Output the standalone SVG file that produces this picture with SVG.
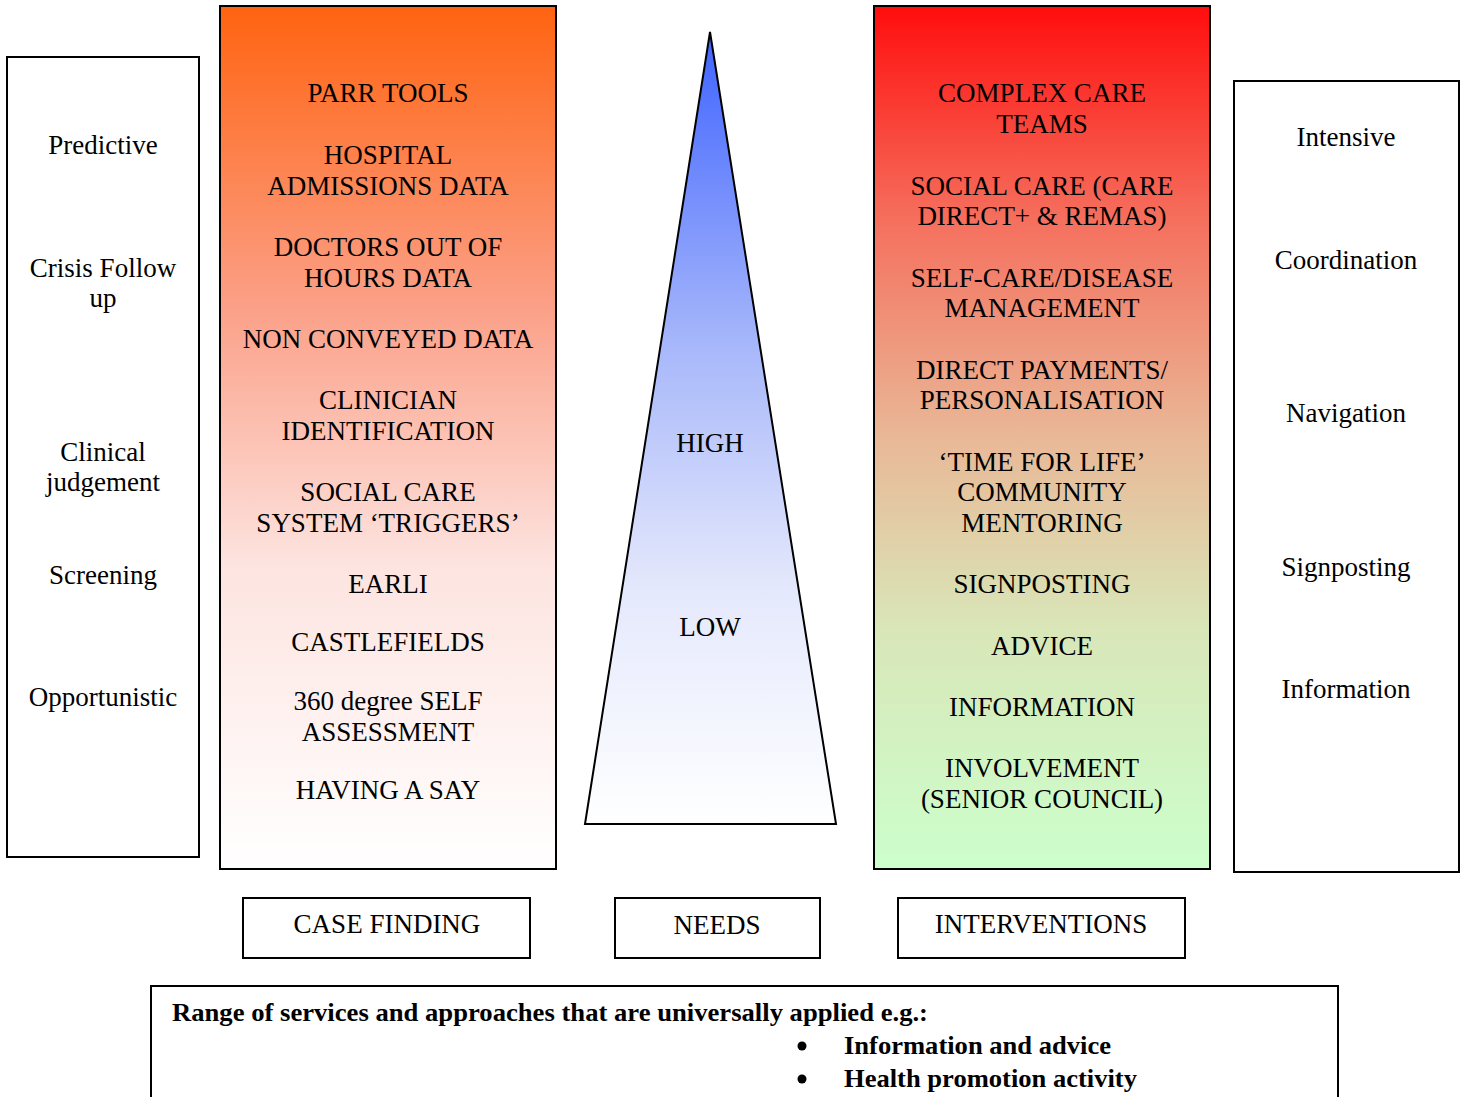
<svg xmlns="http://www.w3.org/2000/svg" width="1462" height="1097" viewBox="0 0 1462 1097">
<style>
text{font-family:"Liberation Serif","Times New Roman",serif;font-size:27px;fill:#000;text-anchor:middle}
.box{fill:#fff;stroke:#000;stroke-width:2}
.b{font-weight:bold;text-anchor:start;font-size:26px}
</style>
<defs>
<linearGradient id="gOr" x1="0" y1="0" x2="0" y2="1">
<stop offset="0" stop-color="#FF6310"/>
<stop offset="0.35" stop-color="#FBA088"/>
<stop offset="0.65" stop-color="#FDE4E0"/>
<stop offset="1" stop-color="#FFFFFF"/>
</linearGradient>
<linearGradient id="gRG" x1="0" y1="0" x2="0" y2="1">
<stop offset="0" stop-color="#FF0D0D"/>
<stop offset="0.25" stop-color="#F5705E"/>
<stop offset="0.5" stop-color="#E9B897"/>
<stop offset="0.72" stop-color="#D9E6B8"/>
<stop offset="1" stop-color="#CCFFCC"/>
</linearGradient>
<linearGradient id="gTri" x1="0" y1="32" x2="0" y2="824" gradientUnits="userSpaceOnUse">
<stop offset="0" stop-color="#3F63FF"/>
<stop offset="0.4" stop-color="#A8B8FA"/>
<stop offset="0.7" stop-color="#E4E8FC"/>
<stop offset="1" stop-color="#FFFFFF"/>
</linearGradient>
</defs>

<g id="left-column">
<rect class="box" x="7" y="57" width="192" height="800"/>
<text x="103" y="154">Predictive</text>
<text x="103" y="277">Crisis Follow</text>
<text x="103" y="307">up</text>
<text x="103" y="461">Clinical</text>
<text x="103" y="491">judgement</text>
<text x="103" y="584">Screening</text>
<text x="103" y="706">Opportunistic</text>
</g>

<g id="case-finding-list">
<rect x="220" y="6" width="336" height="863" fill="url(#gOr)" stroke="#000" stroke-width="2"/>
<text x="388" y="102">PARR TOOLS</text>
<text x="388" y="164">HOSPITAL</text>
<text x="388" y="195">ADMISSIONS DATA</text>
<text x="388" y="256">DOCTORS OUT OF</text>
<text x="388" y="287">HOURS DATA</text>
<text x="388" y="348">NON CONVEYED DATA</text>
<text x="388" y="409">CLINICIAN</text>
<text x="388" y="440">IDENTIFICATION</text>
<text x="388" y="501">SOCIAL CARE</text>
<text x="388" y="532">SYSTEM ‘TRIGGERS’</text>
<text x="388" y="593">EARLI</text>
<text x="388" y="651">CASTLEFIELDS</text>
<text x="388" y="710">360 degree SELF</text>
<text x="388" y="741">ASSESSMENT</text>
<text x="388" y="799">HAVING A SAY</text>
</g>

<g id="needs-triangle">
<polygon points="710,32 836,824 585,824" fill="url(#gTri)" stroke="#000" stroke-width="2" stroke-linejoin="miter"/>
<text x="710" y="452">HIGH</text>
<text x="710" y="636">LOW</text>
</g>

<g id="interventions-list">
<rect x="874" y="6" width="336" height="863" fill="url(#gRG)" stroke="#000" stroke-width="2"/>
<text x="1042" y="102">COMPLEX CARE</text>
<text x="1042" y="133">TEAMS</text>
<text x="1042" y="195">SOCIAL CARE (CARE</text>
<text x="1042" y="225">DIRECT+ &amp; REMAS)</text>
<text x="1042" y="287">SELF-CARE/DISEASE</text>
<text x="1042" y="317">MANAGEMENT</text>
<text x="1042" y="379">DIRECT PAYMENTS/</text>
<text x="1042" y="409">PERSONALISATION</text>
<text x="1042" y="471">‘TIME FOR LIFE’</text>
<text x="1042" y="501">COMMUNITY</text>
<text x="1042" y="532">MENTORING</text>
<text x="1042" y="593">SIGNPOSTING</text>
<text x="1042" y="655">ADVICE</text>
<text x="1042" y="716">INFORMATION</text>
<text x="1042" y="777">INVOLVEMENT</text>
<text x="1042" y="808">(SENIOR COUNCIL)</text>
</g>

<g id="right-column">
<rect class="box" x="1234" y="81" width="225" height="791"/>
<text x="1346" y="146">Intensive</text>
<text x="1346" y="269">Coordination</text>
<text x="1346" y="422">Navigation</text>
<text x="1346" y="576">Signposting</text>
<text x="1346" y="698">Information</text>
</g>

<g id="label-case-finding">
<rect class="box" x="243" y="898" width="287" height="60"/>
<text x="387" y="933">CASE FINDING</text>
</g>
<g id="label-needs">
<rect class="box" x="615" y="898" width="205" height="60"/>
<text x="717" y="934">NEEDS</text>
</g>
<g id="label-interventions">
<rect class="box" x="898" y="898" width="287" height="60"/>
<text x="1041" y="933">INTERVENTIONS</text>
</g>

<g id="universal-services">
<rect class="box" x="151" y="986" width="1187" height="130"/>
<text class="b" x="172" y="1021" textLength="756" lengthAdjust="spacingAndGlyphs">Range of services and approaches that are universally applied e.g.:</text>
<circle cx="802" cy="1046" r="4.5" fill="#000"/>
<text class="b" x="844" y="1054" textLength="267" lengthAdjust="spacingAndGlyphs">Information and advice</text>
<circle cx="802" cy="1079" r="4.5" fill="#000"/>
<text class="b" x="844" y="1087" textLength="293" lengthAdjust="spacingAndGlyphs">Health promotion activity</text>
</g>

<g id="connectors"></g>
</svg>
